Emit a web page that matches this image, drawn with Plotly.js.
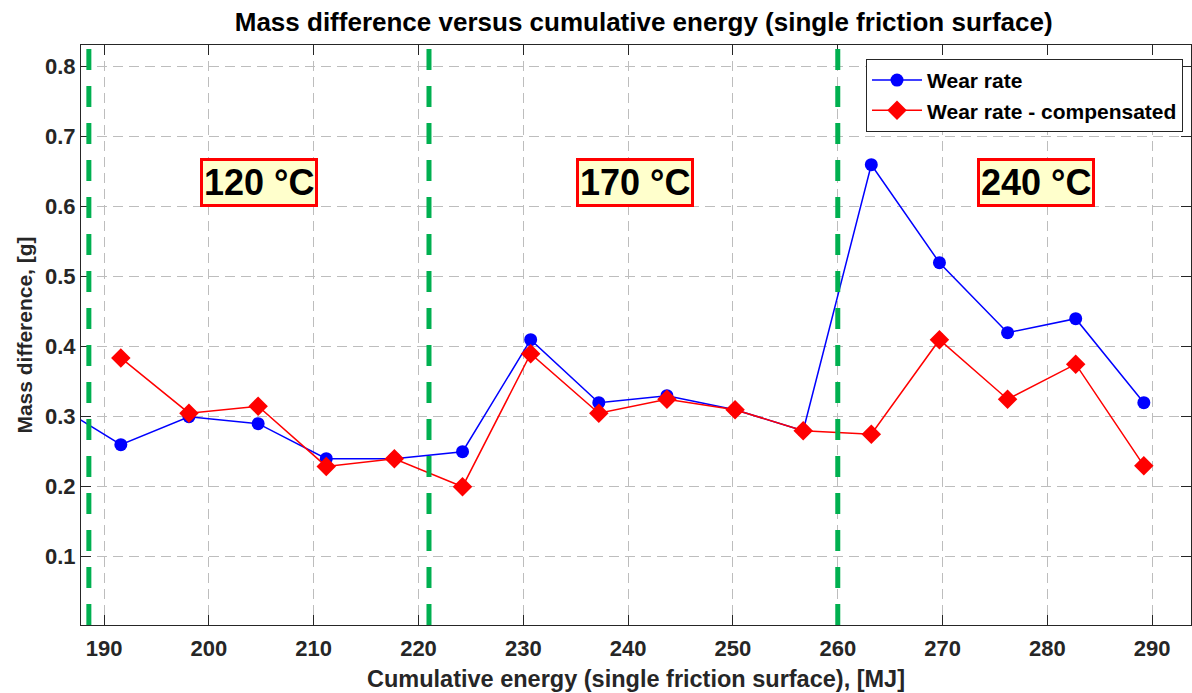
<!DOCTYPE html>
<html>
<head>
<meta charset="utf-8">
<script src="https://cdn.plot.ly/plotly-3.0.1.min.js"></script>
<style>html,body{margin:0;padding:0;background:#fff;}#chart{width:1192px;height:693px;}</style>
</head>
<body>
<div id="chart"></div>
<script>
// Data
const energyWear = [185.1, 191.6, 198.1, 204.7, 211.2, 217.7, 224.2, 230.7, 237.2, 243.7, 250.2, 256.7, 263.2, 269.7, 276.2, 282.7, 289.2];
const wearRate =   [0.32, 0.26, 0.30, 0.29, 0.24, 0.24, 0.25, 0.41, 0.32, 0.33, 0.31, 0.28, 0.66, 0.52, 0.42, 0.44, 0.32];
const energyComp = [191.6, 198.1, 204.7, 211.2, 217.7, 224.2, 230.7, 237.2, 243.7, 250.2, 256.7, 263.2, 269.7, 276.2, 282.7, 289.2];
const wearComp =   [0.384, 0.305, 0.315, 0.229, 0.24, 0.20, 0.39, 0.305, 0.325, 0.31, 0.28, 0.275, 0.41, 0.325, 0.375, 0.23];
const seriesNames = ["Wear rate", "Wear rate - compensated"];
const boundaries = [188.55, 221.0, 260.0];
const tempLabels = ["120 °C", "170 °C", "240 °C"];
const tempLabelX = [204.8, 240.7, 278.9];
const tempLabelY = 0.635;
const yTicks = [0.1, 0.2, 0.3, 0.4, 0.5, 0.6, 0.7, 0.8];
const xTicks = [190, 200, 210, 220, 230, 240, 250, 260, 270, 280, 290];

const FONT = '"Liberation Sans", Arial, Helvetica, sans-serif';
const AX = '#262626';

const traces = [
  {x: energyWear, y: wearRate, name: seriesNames[0], type: 'scatter', mode: 'lines+markers',
   line: {color: '#0000ff', width: 1.5}, marker: {symbol: 'circle', size: 13, color: '#0000ff'}, cliponaxis: true},
  {x: energyComp, y: wearComp, name: seriesNames[1], type: 'scatter', mode: 'lines+markers',
   line: {color: '#ff0000', width: 1.5}, marker: {symbol: 'diamond', size: 15, color: '#ff0000'}, cliponaxis: true}
];

const shapes = boundaries.map(b => ({type: 'line', xref: 'x', yref: 'paper', x0: b, x1: b, y0: 0, y1: 1,
  line: {color: '#00b050', width: 5, dash: '21px,16px'}, layer: 'above'}));

const annotations = tempLabels.map((t, i) => ({x: tempLabelX[i], y: tempLabelY, xref: 'x', yref: 'y', text: '<b>' + t + '</b>',
  showarrow: false, font: {family: FONT, size: 36, color: '#000'}, bgcolor: '#ffffcc', bordercolor: '#ff0000',
  borderwidth: 3, borderpad: 1}));

const axisCommon = {showline: true, mirror: 'ticks', linecolor: AX, linewidth: 1, ticks: 'inside', ticklen: 10,
  tickcolor: AX, tickwidth: 1, showgrid: true, gridcolor: '#bdbdbd', gridwidth: 1, griddash: '10px,6px', zeroline: false,
  tickfont: {family: FONT, size: 22, color: AX, weight: 'bold'}, automargin: false};

const layout = {
  width: 1192, height: 693,
  margin: {l: 81, r: 1, t: 45, b: 68, pad: 0},
  paper_bgcolor: '#fff', plot_bgcolor: '#fff',
  font: {family: FONT},
  title: {text: '<b>Mass difference versus cumulative energy (single friction surface)</b>',
    font: {family: FONT, size: 26, color: '#000'}, x: 0.54, xanchor: 'center', y: 0.968, yanchor: 'middle'},
  xaxis: Object.assign({}, axisCommon, {range: [187.8, 293.7], tickvals: xTicks, ticktext: xTicks.map(String),
    ticklabelstandoff: 4,
    title: {text: '<b>Cumulative energy (single friction surface), [MJ]</b>', font: {family: FONT, size: 23.5, color: AX}, standoff: 10}}),
  yaxis: Object.assign({}, axisCommon, {range: [0.0024, 0.831], tickvals: yTicks, ticktext: yTicks.map(v => v.toFixed(1)),
    ticklabelstandoff: 0,
    title: {text: '<b>Mass difference, [g]</b>', font: {family: FONT, size: 21, color: AX}, standoff: 6}}),
  showlegend: true,
  legend: {x: 0.9928, xanchor: 'right', y: 0.976, yanchor: 'top', bgcolor: '#fff', bordercolor: '#262626', borderwidth: 1,
    font: {family: FONT, size: 21, color: '#000', weight: 'bold'}, itemwidth: 50, tracegroupgap: 0},
  shapes: shapes,
  annotations: annotations
};

Plotly.newPlot('chart', traces, layout, {displayModeBar: false, staticPlot: true});
</script>
</body>
</html>
